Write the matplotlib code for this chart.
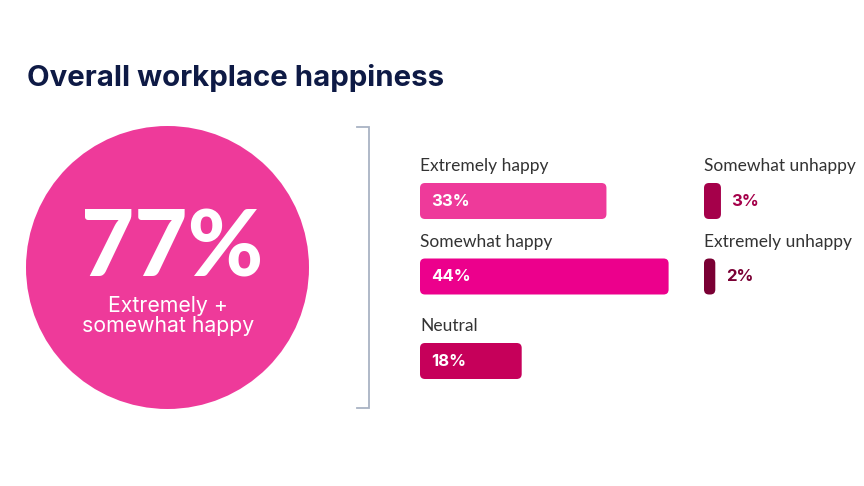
import matplotlib
matplotlib.use('Agg')
import matplotlib.pyplot as plt
from matplotlib.patches import Circle, FancyBboxPatch

# data
title = 'Overall workplace happiness'
overall_value = 77
overall_label = 'Extremely +\nsomewhat happy'

left_cats = ['Extremely happy', 'Somewhat happy', 'Neutral']
left_vals = [33, 44, 18]
left_colors = ['#EE3A9A', '#EC008C', '#C6005A']

right_cats = ['Somewhat unhappy', 'Extremely unhappy']
right_vals = [3, 2]
right_colors = ['#A5004A', '#7A0034']

# layout (pixels from top-left of a 864x486 canvas)
W, H = 864, 486
PX = 5.65          # pixels per percent
left_rows = [201, 276.5, 361]
right_rows = [201, 276.5]
bar_h = 36
navy = '#0E1A45'
grey = '#333333'
plt.rcParams['font.family'] = ['Lato', 'DejaVu Sans']
wide = ['Inter', 'DejaVu Sans']

fig = plt.figure(figsize=(W / 100, H / 100), dpi=100)
fig.patch.set_facecolor('white')

# background axes in pixel units
bg = fig.add_axes([0, 0, 1, 1])
bg.set_xlim(0, W)
bg.set_ylim(H, 0)
bg.axis('off')

bg.text(27, 78, title, fontsize=21.2, fontweight='bold', color=navy,
        ha='left', va='center', family=wide)

# big circle
bg.add_patch(Circle((167.5, 267.5), 141.5, color='#EE3A9A', lw=0))
bg.text(172, 250, f'{overall_value}%', fontsize=66, fontweight='black',
        color='white', ha='center', va='center')
bg.text(168, 316, overall_label, fontsize=15.3, color='white',
        ha='center', va='center', linespacing=1.0, family=wide)

# bracket
bg.plot([357, 369, 369, 357], [127, 127, 408, 408], color='#A9B3C4', lw=1.3,
        solid_joinstyle='miter')


def bar_axes(x0, pct_span):
    ax = fig.add_axes([x0 / W, (H - 400) / H, pct_span * PX / W, 270 / H])
    ax.set_xlim(0, pct_span)
    ax.set_ylim(400, 130)
    ax.axis('off')
    ax.patch.set_alpha(0)
    return ax


def rounded(ax, bars, colors):
    for b, c in zip(bars, colors):
        b.set_visible(False)
        ax.add_patch(FancyBboxPatch((b.get_x(), b.get_y()), b.get_width(), b.get_height(),
                                    boxstyle='round,pad=0,rounding_size=%f' % (5 / PX),
                                    mutation_aspect=PX, fc=c, ec='none'))


ax_l = bar_axes(420, 50)
bars = ax_l.barh(left_rows, left_vals, height=bar_h, color=left_colors)
rounded(ax_l, bars, left_colors)
for y, v, cat in zip(left_rows, left_vals, left_cats):
    ax_l.text(0, y - bar_h / 2 - 17, cat, fontsize=12.5, color=grey,
              ha='left', va='center')
    ax_l.annotate(f'{v}%', (0, y), xytext=(8, 0), textcoords='offset points',
                  fontsize=12, fontweight='bold', color='white',
                  ha='left', va='center', family=wide)

ax_r = bar_axes(704, 25)
bars = ax_r.barh(right_rows, right_vals, height=bar_h, color=right_colors)
rounded(ax_r, bars, right_colors)
for y, v, cat, c in zip(right_rows, right_vals, right_cats, right_colors):
    ax_r.text(0, y - bar_h / 2 - 17, cat, fontsize=12.5, color=grey,
              ha='left', va='center')
    ax_r.annotate(f'{v}%', (v, y), xytext=(7.5, 0), textcoords='offset points',
                  fontsize=12, fontweight='bold', color=c,
                  ha='left', va='center', family=wide)

fig.savefig('out.png', dpi=100, facecolor='white')
